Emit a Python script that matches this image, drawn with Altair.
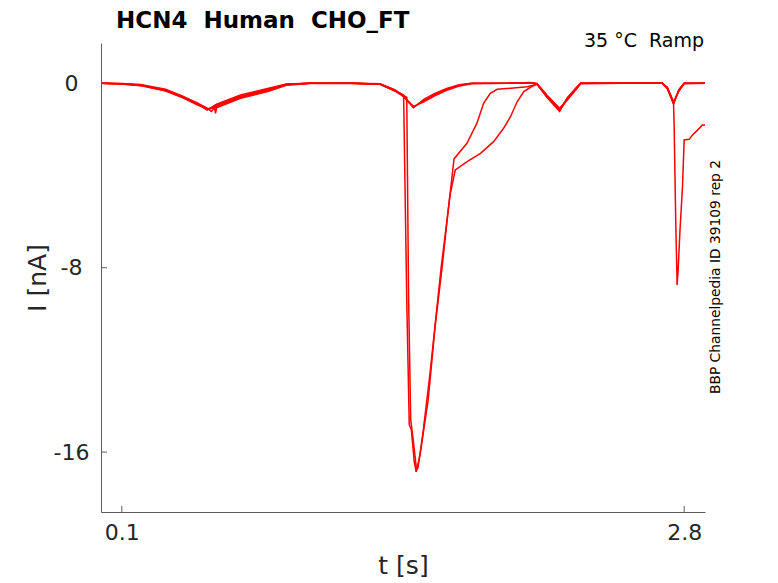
import altair as alt
import pandas as pd

# ---------------- data ----------------
x_tick_values = [0.1, 2.8]
y_tick_values = [0, -8, -16]

title_text = "HCN4\u00a0 Human\u00a0 CHO_FT"
corner_text = "35 °C\u00a0 Ramp"
side_text = "BBP Channelpedia ID 39109 rep 2"

# sweep 1: early large inward spike, fast recovery
t1 = [0, 0.10, 0.19, 0.31, 0.39, 0.46, 0.51, 0.555, 0.67, 0.80, 0.89, 1.00, 1.20, 1.34, 1.41,
      1.453, 1.468, 1.480, 1.490, 1.504, 1.513, 1.532, 1.571, 1.604, 1.638, 1.662, 1.695,
      1.757, 1.805, 1.837, 1.869, 1.902, 2.046, 2.093, 2.142, 2.202, 2.239, 2.287, 2.303,
      2.50, 2.696, 2.72, 2.749, 2.775, 2.80, 2.90]
i1 = [0, -0.02, -0.07, -0.29, -0.58, -0.87, -1.16, -0.90, -0.51, -0.22, -0.03, 0, 0, -0.03, -0.30,
      -0.51, -9.39, -14.81, -15.03, -16.42, -16.86, -16.12, -13.73, -10.57, -7.97, -5.93, -3.28,
      -2.60, -1.73, -0.87, -0.43, -0.26, -0.15, -0.04, -0.58, -1.15, -0.65, -0.15, 0,
      0, 0, -0.20, -0.87, -0.30, 0, 0]

# sweep 2: early large inward spike, slow recovery
t2 = [0, 0.10, 0.19, 0.31, 0.39, 0.46, 0.51, 0.555, 0.67, 0.80, 0.89, 1.00, 1.20, 1.34, 1.41,
      1.468, 1.477, 1.487, 1.499, 1.515, 1.522, 1.546, 1.580, 1.633, 1.676, 1.701,
      1.758, 1.822, 1.885, 1.933, 1.966, 1.998, 2.030, 2.062, 2.093, 2.142, 2.202, 2.239,
      2.287, 2.303, 2.50, 2.696, 2.72, 2.749, 2.775, 2.80, 2.90]
i2 = [0, -0.03, -0.10, -0.33, -0.62, -0.92, -1.10, -1.06, -0.65, -0.36, -0.08, -0.01, 0, -0.04, -0.33,
      -0.60, -9.39, -14.60, -15.47, -16.77, -16.68, -15.16, -12.56, -8.01, -4.84, -3.76,
      -3.40, -3.04, -2.53, -1.95, -1.45, -0.80, -0.36, -0.17, -0.02, -0.55, -1.10, -0.70,
      -0.18, 0, 0, 0, -0.25, -0.85, -0.28, 0, 0]

# sweep 3: late inward spike
t3 = [0, 0.10, 0.19, 0.31, 0.39, 0.46, 0.51, 0.53, 0.555, 0.67, 0.80, 0.89, 1.00, 1.20, 1.34, 1.41,
      1.45, 1.50, 1.55, 1.60, 1.66, 1.72, 1.78, 1.95, 2.06, 2.093, 2.142, 2.202, 2.239, 2.287,
      2.303, 2.50, 2.696, 2.72, 2.749, 2.752, 2.760, 2.765, 2.766, 2.771, 2.780, 2.792,
      2.800, 2.824, 2.840, 2.864, 2.888, 2.904]
i3 = [0, -0.01, -0.05, -0.26, -0.55, -0.84, -1.08, -1.22, -0.95, -0.58, -0.28, -0.05, 0, 0, -0.02, -0.27,
      -0.52, -1.04, -0.75, -0.50, -0.25, -0.08, 0, 0, 0.03, -0.02, -0.62, -1.22, -0.62, -0.14,
      0, 0, 0, -0.22, -0.85, -1.90, -6.22, -8.24, -8.75, -8.10, -6.36, -4.48,
      -2.46, -2.43, -2.24, -2.03, -1.81, -1.81]

# sweep 4: plain sweep (noisy near first trough)
t4 = [0, 0.10, 0.19, 0.31, 0.39, 0.46, 0.51, 0.545, 0.550, 0.556, 0.67, 0.80, 0.89, 1.00, 1.20,
      1.34, 1.41, 1.45, 1.50, 1.55, 1.60, 1.66, 1.72, 1.78, 1.95, 2.06, 2.093, 2.142, 2.202,
      2.239, 2.287, 2.303, 2.50, 2.696, 2.72, 2.749, 2.775, 2.80, 2.90]
i4 = [0, -0.02, -0.08, -0.31, -0.60, -0.90, -1.12, -1.05, -1.30, -1.00, -0.62, -0.32, -0.06, 0, 0,
      -0.04, -0.33, -0.56, -1.00, -0.80, -0.55, -0.30, -0.12, -0.02, 0, 0.04, -0.01, -0.52, -1.08,
      -0.72, -0.20, -0.02, 0, 0, -0.18, -0.80, -0.33, -0.02, 0]

# sweep 5: plain sweep
t5 = [0, 0.10, 0.19, 0.31, 0.39, 0.46, 0.51, 0.555, 0.67, 0.80, 0.89, 1.00, 1.20, 1.34, 1.41,
      1.45, 1.50, 1.55, 1.60, 1.66, 1.72, 1.78, 1.95, 2.06, 2.093, 2.142, 2.202, 2.239, 2.287,
      2.303, 2.50, 2.696, 2.72, 2.749, 2.775, 2.80, 2.90]
i5 = [0, -0.03, -0.09, -0.30, -0.57, -0.89, -1.13, -0.95, -0.56, -0.26, -0.04, 0, 0, -0.03, -0.31,
      -0.54, -1.06, -0.70, -0.45, -0.22, -0.06, 0, 0, 0.02, -0.03, -0.60, -1.18, -0.68, -0.17,
      0, 0, 0, -0.24, -0.90, -0.26, 0, 0]

sweeps = {"s1": (t1, i1), "s2": (t2, i2), "s3": (t3, i3), "s4": (t4, i4), "s5": (t5, i5)}

rows = []
for name, (ts, vs) in sweeps.items():
    for k, (t, v) in enumerate(zip(ts, vs)):
        rows.append({"sweep": name, "t": t, "I": v, "k": k})
df = pd.DataFrame(rows)

# ---------------- chart ----------------
W, H = 604, 469
FONT = "DejaVu Sans"
AXIS_COLOR = "#5c5c5c"
LABEL_COLOR = "#262626"

xscale = alt.Scale(domain=[0, 2.9], nice=False, zero=False)
yscale = alt.Scale(domain=[-18.6, 1.75], nice=False, zero=False)

x_axis = alt.Axis(
    values=x_tick_values, title="t [s]", labelExpr="format(datum.value, '.1f')",
    tickSize=0, labelPadding=10, labelBaseline="top",
    titleX=W / 2, titleY=53, titleBaseline="middle", titleAlign="center")
y_axis = alt.Axis(
    values=y_tick_values, title="I [nA]", labelExpr="'' + datum.value",
    tickSize=0, labelPadding=30, labelAlign="center", labelBaseline="middle",
    titleX=-64, titleY=H / 2, titleBaseline="middle", titleAlign="center", titleAngle=270)

lines = alt.Chart(df).mark_line(color="#ff0000", strokeWidth=1.5, clip=True).encode(
    x=alt.X("t:Q", scale=xscale, axis=x_axis),
    y=alt.Y("I:Q", scale=yscale, axis=y_axis),
    detail="sweep:N",
    order="k:Q",
)

xticks = alt.Chart(pd.DataFrame({"t": x_tick_values})).mark_rule(
    color=AXIS_COLOR, strokeWidth=1).encode(
    x=alt.X("t:Q", scale=xscale, axis=x_axis),
    y=alt.value(H), y2=alt.value(H - 6))

yticks = alt.Chart(pd.DataFrame({"I": y_tick_values})).mark_rule(
    color=AXIS_COLOR, strokeWidth=1).encode(
    y=alt.Y("I:Q", scale=yscale, axis=y_axis),
    x=alt.value(0), x2=alt.value(6))

title_mark = alt.Chart(pd.DataFrame({"label": [title_text]})).mark_text(
    font=FONT, fontSize=23, fontWeight="bold", color="#000000",
    align="left", baseline="alphabetic").encode(
    text="label:N", x=alt.value(15), y=alt.value(-15))

corner_mark = alt.Chart(pd.DataFrame({"label": [corner_text]})).mark_text(
    font=FONT, fontSize=19, color="#000000",
    align="right", baseline="alphabetic").encode(
    text="label:N", x=alt.value(W - 1), y=alt.value(4))

side_mark = alt.Chart(pd.DataFrame({"label": [side_text]})).mark_text(
    font=FONT, fontSize=13.8, color="#000000", angle=270,
    align="center", baseline="middle").encode(
    text="label:N", x=alt.value(615), y=alt.value(234))

chart = alt.layer(lines, xticks, yticks, title_mark, corner_mark, side_mark).properties(
    width=W, height=H,
    autosize=alt.AutoSizeParams(type="none"),
    padding={"left": 93, "top": 35, "right": 65, "bottom": 73},
).configure_view(stroke=None).configure_axis(
    grid=False,
    domainColor=AXIS_COLOR,
    domainWidth=1,
    labelFont=FONT,
    labelFontSize=22,
    labelColor=LABEL_COLOR,
    titleFont=FONT,
    titleFontSize=25,
    titleFontWeight="normal",
    titleColor=LABEL_COLOR,
    labelFlush=False,
    labelOverlap=False,
)

chart.save("out.html", embed_options={"renderer": "svg", "actions": False})
